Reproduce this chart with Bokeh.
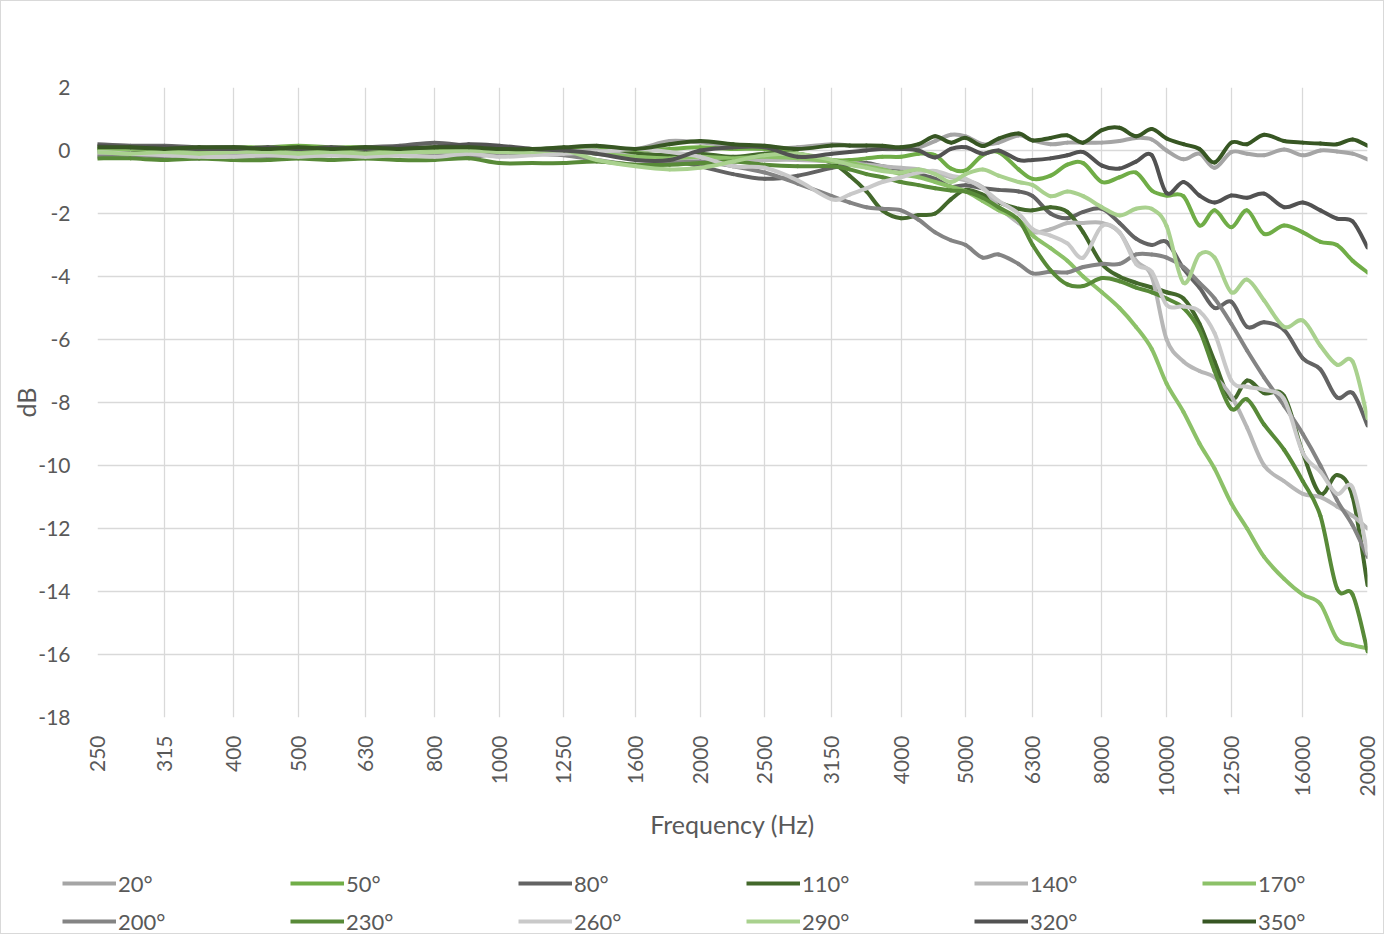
from bokeh.plotting import figure
from bokeh.layouts import column
from bokeh.models import FixedTicker, Legend, LegendItem, NumeralTickFormatter
from bokeh.embed import file_html
from bokeh.resources import INLINE
import numpy as np
import math

# x: band centre frequencies (Hz) of the data points
freq_hz = [250, 280, 315, 355, 400, 450, 500, 560, 630, 710, 800, 900, 1000, 1120, 1250,
           1400, 1600, 1800, 2000, 2240, 2500, 2800, 3150,
           3350, 3550, 3750, 4000, 4250, 4500, 4750, 5000, 5300, 5600, 6000, 6300,
           6700, 7100, 7500, 8000, 8500, 9000, 9500, 10000, 10600, 11200, 11800, 12500,
           13200, 14000, 15000, 16000, 17000, 18000, 19000, 20000]

tick_labels = [250, 315, 400, 500, 630, 800, 1000, 1250, 1600, 2000, 2500, 3150, 4000,
               5000, 6300, 8000, 10000, 12500, 16000, 20000]
y_ticks = [2, 0, -2, -4, -6, -8, -10, -12, -14, -16, -18]

angles = ["20°", "50°", "80°", "110°", "140°", "170°", "200°", "230°", "260°", "290°", "320°", "350°"]

db_20 = [-0.1, -0.12, -0.1, -0.15, -0.1, -0.1, -0.05, -0.1, -0.05, -0.05, 0.0, 0.05, 0.0, -0.05, 0.0,
         0.05, 0.05, 0.3, 0.25, 0.15, 0.05, 0.1, 0.2,
         0.15, 0.1, 0.05, 0.05, 0.1, 0.3, 0.5, 0.45, 0.2, 0.25, 0.48, 0.32, 0.2, 0.25, 0.25, 0.25,
         0.3, 0.4, 0.35, 0.0, -0.28, -0.1, -0.55, -0.05, -0.1, -0.15, 0.03, -0.15, 0.0, -0.03, -0.1, -0.28]
db_50 = [0.05, 0.1, 0.1, 0.05, 0.1, 0.1, 0.15, 0.1, 0.1, 0.05, 0.05, 0.1, 0.05, 0.0, 0.05,
         0.1, 0.0, 0.05, 0.1, 0.05, 0.05, -0.1, -0.3,
         -0.3, -0.25, -0.2, -0.2, -0.1, -0.15, -0.57, -0.63, -0.15, -0.05, -0.6, -0.9, -0.8, -0.45, -0.4, -1.0,
         -0.85, -0.7, -1.27, -1.43, -1.45, -2.38, -1.9, -2.44, -1.9, -2.65, -2.38, -2.6, -2.9, -3.0, -3.5, -3.87]
db_80 = [0.2, 0.15, 0.15, 0.1, 0.1, 0.05, 0.05, 0.0, 0.1, 0.15, 0.25, 0.15, 0.1, -0.05, 0.0,
         -0.1, -0.2, -0.3, -0.5, -0.75, -0.9, -0.8, -0.55,
         -0.45, -0.4, -0.5, -0.6, -0.75, -0.9, -1.15, -1.1, -1.2, -1.25, -1.3, -1.45, -2.0, -2.15, -1.95, -1.85,
         -2.3, -2.8, -3.0, -2.9, -3.75, -4.35, -5.0, -4.8, -5.6, -5.45, -5.7, -6.6, -6.95, -7.84, -7.7, -8.73]
db_110 = [0.0, 0.0, -0.05, 0.0, 0.0, 0.05, 0.0, 0.05, 0.0, 0.05, 0.05, 0.0, 0.05, 0.05, 0.0,
          -0.05, -0.1, -0.15, -0.1, -0.2, -0.1, -0.1, -0.4,
          -0.8, -1.3, -1.9, -2.15, -2.05, -2.0, -1.55, -1.25, -1.4, -1.65, -1.85, -1.9, -1.8, -1.95, -2.6, -3.6,
          -4.0, -4.2, -4.35, -4.5, -4.7, -5.5, -6.7, -7.9, -7.3, -7.7, -7.8, -9.6, -10.9, -10.3, -11.0, -13.8]
db_140 = [-0.15, -0.1, -0.15, -0.2, -0.15, -0.2, -0.15, -0.1, -0.15, -0.1, -0.05, -0.05, -0.15, -0.1, -0.05,
          0.0, -0.2, -0.3, -0.35, -0.3, -0.3, -0.3, -0.35,
          -0.4, -0.45, -0.5, -0.55, -0.6, -0.7, -0.85, -0.95, -1.17, -1.8, -2.3, -2.6, -2.5, -2.3, -2.3, -2.3,
          -2.6, -3.5, -4.0, -6.0, -6.7, -7.0, -7.2, -7.8, -8.8, -10.0, -10.5, -10.9, -11.0, -11.3, -11.6, -12.0]
db_170 = [0.05, 0.05, 0.05, 0.0, 0.05, 0.05, 0.0, 0.05, 0.05, 0.0, 0.0, -0.05, 0.0, 0.0, -0.05,
          -0.1, -0.2, -0.25, -0.2, -0.25, -0.2, -0.25, -0.35,
          -0.4, -0.5, -0.6, -0.75, -0.85, -1.0, -1.15, -1.3, -1.6, -1.9, -2.2, -2.7, -3.1, -3.5, -4.0, -4.5,
          -5.0, -5.6, -6.3, -7.4, -8.3, -9.3, -10.1, -11.2, -12.0, -12.9, -13.6, -14.1, -14.4, -15.5, -15.7, -15.8]
db_200 = [-0.2, -0.15, -0.2, -0.25, -0.2, -0.2, -0.15, -0.15, -0.1, -0.15, -0.15, -0.2, -0.1, -0.1, -0.15,
          -0.3, -0.45, -0.4, -0.35, -0.5, -0.7, -1.05, -1.45,
          -1.65, -1.8, -1.85, -1.9, -2.2, -2.6, -2.85, -3.0, -3.4, -3.3, -3.6, -3.9, -3.85, -3.87, -3.7, -3.6,
          -3.6, -3.3, -3.3, -3.4, -3.7, -4.2, -4.7, -5.5, -6.35, -7.2, -8.1, -9.0, -10.0, -11.1, -11.9, -12.9]
db_230 = [-0.25, -0.25, -0.3, -0.25, -0.3, -0.3, -0.25, -0.3, -0.25, -0.3, -0.3, -0.25, -0.4, -0.4, -0.4,
          -0.35, -0.45, -0.45, -0.4, -0.35, -0.45, -0.5, -0.5,
          -0.6, -0.75, -0.85, -1.0, -1.1, -1.2, -1.27, -1.3, -1.5, -1.8, -2.2, -3.0, -3.8, -4.25, -4.3, -4.05,
          -4.15, -4.35, -4.5, -4.7, -5.0, -5.7, -7.0, -8.2, -7.9, -8.7, -9.5, -10.5, -11.6, -13.9, -14.1, -15.9]
db_260 = [-0.05, -0.1, -0.15, -0.2, -0.2, -0.15, -0.2, -0.15, -0.2, -0.15, -0.2, -0.1, -0.2, -0.15, -0.1,
          -0.05, 0.05, -0.05, -0.2, -0.5, -0.55, -0.95, -1.55,
          -1.4, -1.2, -1.0, -0.85, -0.7, -0.65, -0.8, -0.9, -1.2, -1.6, -2.0, -2.5, -2.7, -2.95, -3.4, -2.4,
          -2.6, -3.6, -3.85, -4.9, -4.95, -5.1, -5.8, -7.3, -7.5, -7.6, -7.9, -9.6, -10.2, -10.9, -10.7, -12.8]
db_290 = [-0.05, -0.1, -0.05, -0.1, -0.05, -0.05, -0.1, -0.05, -0.1, -0.05, -0.05, 0.0, -0.05, -0.05, 0.0,
          -0.3, -0.5, -0.6, -0.55, -0.35, -0.15, -0.1, -0.3,
          -0.45, -0.55, -0.65, -0.7, -0.6, -0.75, -1.0, -0.75, -0.6, -0.8, -1.0, -1.1, -1.45, -1.3, -1.45, -1.8,
          -2.06, -1.85, -1.85, -2.4, -4.2, -3.3, -3.4, -4.5, -4.1, -4.76, -5.6, -5.4, -6.2, -6.8, -6.7, -8.5]
db_320 = [0.15, 0.1, 0.1, 0.05, 0.05, 0.1, 0.05, 0.1, 0.05, 0.1, 0.1, 0.2, 0.15, 0.05, 0.0,
          -0.1, -0.3, -0.3, 0.0, 0.1, 0.1, -0.2, -0.1,
          -0.05, 0.0, 0.05, 0.05, 0.0, -0.22, 0.05, 0.1, -0.1, 0.0, -0.3, -0.3, -0.25, -0.15, -0.05, -0.48,
          -0.57, -0.35, -0.15, -1.35, -1.0, -1.43, -1.65, -1.43, -1.5, -1.37, -1.8, -1.65, -1.9, -2.16, -2.25, -3.08]
db_350 = [0.1, 0.1, 0.05, 0.1, 0.1, 0.05, 0.1, 0.05, 0.1, 0.05, 0.1, 0.1, 0.05, 0.05, 0.1,
          0.15, 0.05, 0.2, 0.3, 0.2, 0.15, 0.05, 0.16,
          0.16, 0.16, 0.15, 0.1, 0.2, 0.45, 0.25, 0.4, 0.14, 0.38, 0.54, 0.32, 0.4, 0.48, 0.25, 0.65,
          0.72, 0.45, 0.68, 0.38, 0.2, 0.05, -0.38, 0.25, 0.2, 0.5, 0.3, 0.25, 0.22, 0.2, 0.35, 0.15]

series = [db_20, db_50, db_80, db_110, db_140, db_170, db_200, db_230, db_260, db_290, db_320, db_350]
colors = ["#a5a5a5", "#70ad47", "#636363", "#43682b", "#b7b7b7", "#8cc168",
          "#848484", "#588a38", "#c9c9c9", "#a9d18e", "#525252", "#375623"]

FONT = "Lato"
TXT = "#595959"
LINE_W = 4


def smooth_segments(xs, ys):
    """Catmull-Rom (Excel-style smoothed line) segments as cubic Bezier pieces."""
    u = [math.log10(x) for x in xs]
    n = len(xs)
    out = {"x0": [], "y0": [], "x1": [], "y1": [], "cx0": [], "cy0": [], "cx1": [], "cy1": []}
    for i in range(n - 1):
        im, ip2 = max(i - 1, 0), min(i + 2, n - 1)
        c0u = u[i] + (u[i + 1] - u[im]) / 6.0
        c0y = ys[i] + (ys[i + 1] - ys[im]) / 6.0
        c1u = u[i + 1] - (u[ip2] - u[i]) / 6.0
        c1y = ys[i + 1] - (ys[ip2] - ys[i]) / 6.0
        out["x0"].append(xs[i]); out["y0"].append(ys[i])
        out["x1"].append(xs[i + 1]); out["y1"].append(ys[i + 1])
        out["cx0"].append(10 ** c0u); out["cy0"].append(c0y)
        out["cx1"].append(10 ** c1u); out["cy1"].append(c1y)
    return out


# ---------------- main chart ----------------
p = figure(frame_width=1270, frame_height=630, x_axis_type="log",
           x_range=(250, 20000), y_range=(-18, 2),
           output_backend="svg", toolbar_location=None,
           min_border_left=96, min_border_right=16, min_border_top=86, min_border_bottom=128,
           background_fill_color="white", border_fill_color="white")
p.outline_line_color = None

p.xaxis.ticker = FixedTicker(ticks=tick_labels, minor_ticks=[])
p.xgrid.ticker = FixedTicker(ticks=tick_labels, minor_ticks=[])
p.xaxis.formatter = NumeralTickFormatter(format="0")
p.yaxis.ticker = FixedTicker(ticks=y_ticks, minor_ticks=[])
p.ygrid.ticker = FixedTicker(ticks=y_ticks, minor_ticks=[])
p.yaxis.major_label_overrides = {t: str(t) for t in y_ticks}

for ax in (p.xaxis[0], p.yaxis[0]):
    ax.axis_line_color = None
    ax.major_tick_line_color = None
    ax.minor_tick_line_color = None
    ax.major_tick_out = 0
    ax.major_tick_in = 0
    ax.minor_tick_out = 0
    ax.minor_tick_in = 0
    ax.major_label_text_color = TXT
    ax.major_label_text_font = FONT
    ax.major_label_text_font_size = "21px"
    ax.axis_label_text_color = TXT
    ax.axis_label_text_font = FONT
    ax.axis_label_text_font_size = "25px"
    ax.axis_label_text_font_style = "normal"

p.xaxis.major_label_orientation = math.pi / 2
p.xaxis.major_label_standoff = 18
p.xaxis.axis_label = "Frequency (Hz)"
p.xaxis.axis_label_standoff = 10
p.yaxis.major_label_standoff = 27
p.yaxis.axis_label = "dB"
p.yaxis.axis_label_standoff = -6

for g in (p.xgrid[0], p.ygrid[0]):
    g.grid_line_color = "#d9d9d9"
    g.grid_line_width = 1.3

for name, vals, col in zip(angles, series, colors):
    seg = smooth_segments(freq_hz, vals)
    p.bezier(x0=seg["x0"], y0=seg["y0"], x1=seg["x1"], y1=seg["y1"],
             cx0=seg["cx0"], cy0=seg["cy0"], cx1=seg["cx1"], cy1=seg["cy1"],
             line_color=col, line_width=LINE_W, line_cap="round")

# ---------------- legend strip ----------------
q = figure(frame_width=1382, frame_height=88, x_range=(0, 1), y_range=(0, 1),
           output_backend="svg", toolbar_location=None,
           min_border_left=0, min_border_right=0, min_border_top=0, min_border_bottom=0,
           background_fill_color="white", border_fill_color="white")
q.outline_line_color = None
q.axis.visible = False
q.grid.visible = False

items = []
for name, col in zip(angles, colors):
    # legend-key renderer only: a single NaN point draws nothing in the strip
    r = q.line(x=np.array([np.nan]), y=np.array([np.nan]), line_color=col, line_width=LINE_W)
    items.append(LegendItem(label=name, renderers=[r]))

common = dict(orientation="horizontal", glyph_width=54, glyph_height=20,
              label_standoff=2, label_width=172, label_height=40, spacing=0,
              padding=0, margin=0, border_line_color=None, background_fill_alpha=0,
              label_text_font=FONT, label_text_font_size="22px", label_text_color=TXT)
q.add_layout(Legend(items=items[:6], location=(61, 30), **common), "center")
q.add_layout(Legend(items=items[6:], location=(61, -8), **common), "center")

layout = column(p, q, spacing=0, styles={"border": "1px solid #d9d9d9"})

open("out.html", "w").write(file_html(layout, INLINE))
